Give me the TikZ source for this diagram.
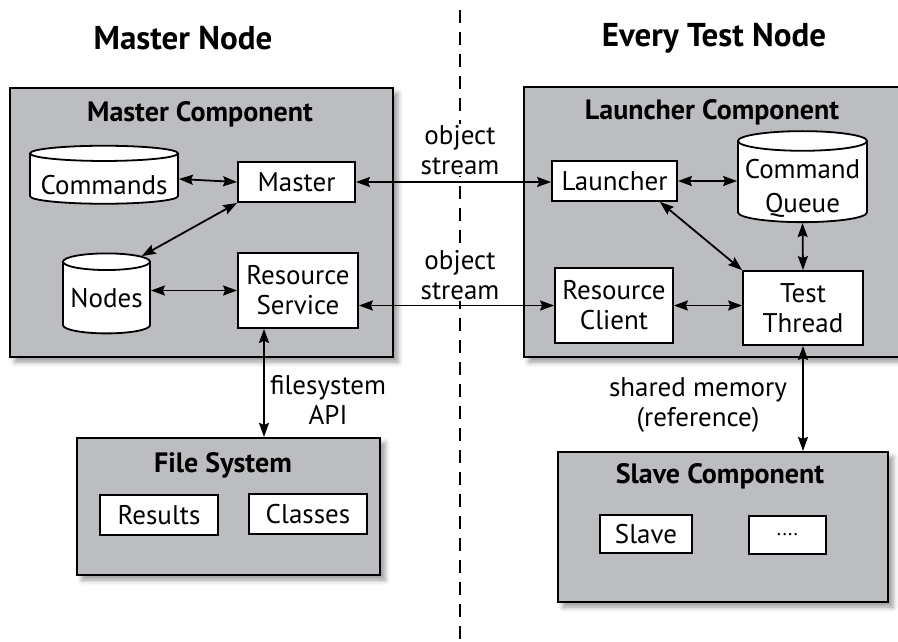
\documentclass[tikz,border=0pt]{standalone}
\usepackage{fontspec}
\setmainfont{PT Sans}
\usetikzlibrary{shapes.geometric,arrows.meta,shadows.blur}

\definecolor{compGray}{RGB}{188,189,192}

\begin{document}
\begin{tikzpicture}
[x=1pt,y=-1pt,
  compDecorate/.style={draw,line width=2.2pt,fill=compGray,inner sep=0pt,
    blur shadow={shadow xshift=5pt,shadow yshift=-5pt,shadow blur radius=5pt}},%
  boxDecorate/.style={draw,line width=1.8pt,fill=white,inner sep=0pt,align=center},%
  dbDecorate/.style={cylinder,shape border rotate=90,draw,line width=1.8pt,
    fill=white,inner sep=0pt},%
  lineDecorate/.style={{Stealth[length=14pt,width=10pt,inset=2pt]}-{Stealth[length=14pt,width=10pt,inset=2pt]},line width=1.8pt},%
  labelDecorate/.style={fill=white,align=center,inner sep=1pt},%
  titleDecorate/.style={font=\fontsize{28}{32}\selectfont\bfseries},%
  headDecorate/.style={font=\fontsize{33}{38}\selectfont\bfseries}]
\fontsize{27}{30}\selectfont
\useasboundingbox (0,0) rectangle (898,641);
%% dividing line
\coordinate (divTop) at (460,10);
\coordinate (divBot) at (460,641);
\draw[line width=2pt,dash pattern=on 13pt off 9pt] (divTop) -- (divBot);
%% headings
\node (masterhead) at (183,38) [headDecorate] {Master Node};
\node (testhead) at (714,38) [headDecorate] {Every Test Node};
%% components
\foreach \compname/\x/\y/\w/\h in {mastercomp/201.5/222.5/383/269, launchcomp/714/222/380/270,
  fscomp/228.5/506.5/303/137, slavecomp/723/527/330/150}
{
  \node (\compname) at (\x,\y) [compDecorate,minimum width=\w pt,minimum height=\h pt] {};
}
\foreach \titlename/\x/\y/\txt in {mastertitle/200/114/Master Component,
  launchtitle/712/112/Launcher Component, fstitle/223/465/File System,
  slavetitle/720/476/Slave Component}
{
  \node (\titlename) at (\x,\y) [titleDecorate] {\txt};
}
%% boxes and stores
\foreach \boxname/\x/\y/\w/\h/\txt in {master/296.5/182/117/40/Master,
  ressvc/298/290.5/120/75/{Resource\\Service}, launcher/614.5/181/125/40/Launcher,
  resclient/614/305.5/118/75/{Resource\\Client}, testthread/803/308/120/74/{Test\\Thread},
  results/159/515/118/40/Results, classes/308/514/118/40/Classes,
  slave/646/534/92/38/Slave, more/787.5/535/77/38/{\fontsize{20}{24}\selectfont....}}
{
  \node (\boxname) at (\x,\y) [boxDecorate,minimum width=\w pt,minimum height=\h pt] {\txt};
}
\foreach \dbname/\x/\y/\w/\h/\asp/\drop/\txt in {commands/104/179/148/58/0.12/16/Commands,
  nodesdb/106.5/298/87/80/0.23/10/Nodes, cmdqueue/802.5/182/129/91/0.17/14/{Command\\[4pt]Queue}}
{
  \node (\dbname) at (\x,\y) [dbDecorate,aspect=\asp,minimum width=\w pt,minimum height=\h pt]
    {\raisebox{-\drop pt}[0pt][0pt]{\begin{tabular}{@{}c@{}}\txt\end{tabular}}};
}
%% connector ends
\coordinate (launchOut) at ([xshift=-18pt]launcher.south east);
\coordinate (fsOut) at ([xshift=-34pt]ressvc.south);
\coordinate (fsIn) at (fsOut |- fscomp.north);
%% connectors
\path
\foreach \startnode/\endnode in {commands.east/master.west, nodesdb.50/master.south west,
  {ressvc.west -| nodesdb.east}/ressvc.west, master.east/{master.east -| launcher.west},
  {resclient.west -| ressvc.east}/resclient.west, launcher.east/{launcher.east -| cmdqueue.west},
  launchOut/testthread.north west, cmdqueue.south/testthread.north,
  resclient.east/{resclient.east -| testthread.west}, fsOut/fsIn,
  testthread.south/{testthread.south |- slavecomp.north}}
{
  (\startnode) edge[lineDecorate] (\endnode)
};
%% connector labels
\node (objlabelA) at (460,150) [labelDecorate] {object\\stream};
\node (objlabelB) at (460,275) [labelDecorate] {object\\stream};
\node (fslabel) at (328,400) [labelDecorate] {filesystem\\API};
\node (shmlabel) at (698,405) [labelDecorate] {shared memory\\(reference)};
\end{tikzpicture}
\end{document}
